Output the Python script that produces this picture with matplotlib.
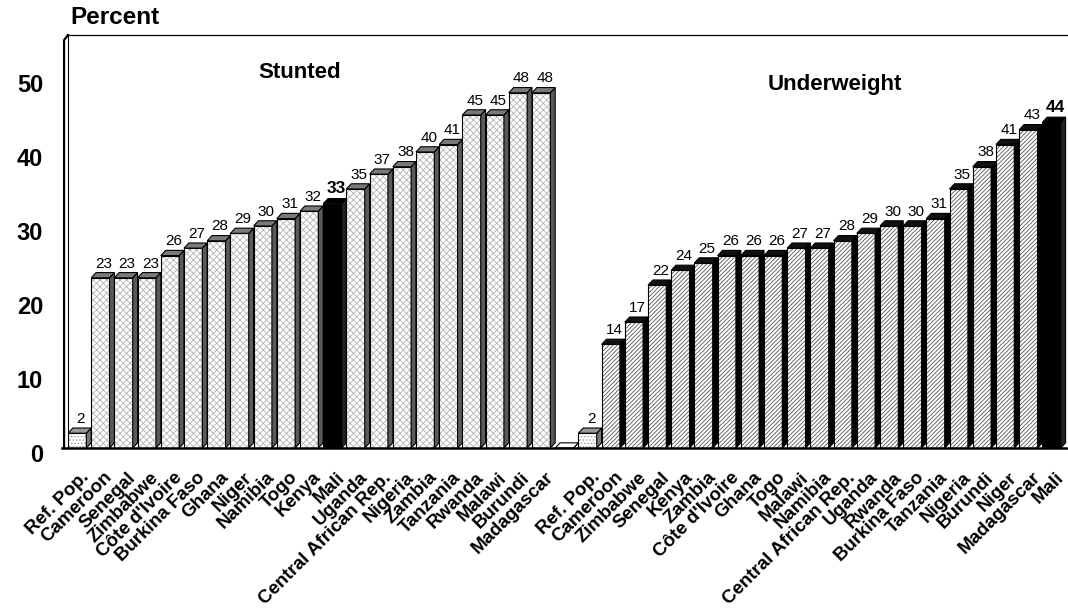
import matplotlib.pyplot as plt
import matplotlib.transforms as mtransforms
from matplotlib.patches import Polygon, Rectangle

plt.rcParams['font.family'] = ['Liberation Sans', 'DejaVu Sans']
plt.rcParams['hatch.linewidth'] = 0.6

# Stunted children, by country
stunted_countries = ['Ref. Pop.', 'Cameroon', 'Senegal', 'Zimbabwe', "Côte d'Ivoire",
                     'Burkina Faso', 'Ghana', 'Niger', 'Namibia', 'Togo', 'Kenya', 'Mali',
                     'Uganda', 'Central African Rep.', 'Nigeria', 'Zambia', 'Tanzania',
                     'Rwanda', 'Malawi', 'Burundi', 'Madagascar']
stunted_values = [2, 23, 23, 23, 26, 27, 28, 29, 30, 31, 32, 33, 35, 37, 38, 40, 41,
                  45, 45, 48, 48]

# Underweight children, by country
underweight_countries = ['Ref. Pop.', 'Cameroon', 'Zimbabwe', 'Senegal', 'Kenya', 'Zambia',
                         "Côte d'Ivoire", 'Ghana', 'Togo', 'Malawi', 'Namibia',
                         'Central African Rep.', 'Uganda', 'Rwanda', 'Burkina Faso',
                         'Tanzania', 'Nigeria', 'Burundi', 'Niger', 'Madagascar', 'Mali']
underweight_values = [2, 14, 17, 22, 24, 25, 26, 26, 26, 27, 27, 28, 29, 30, 30, 31, 35,
                      38, 41, 43, 44]

highlight = 'Mali'

FRONT = 0.79   # width of the front face
DX, DY = 0.21, 0.7  # depth of the 3D effect
YMAX = 55.8

fig = plt.figure(figsize=(10.68, 6.10), dpi=100)
ax = fig.add_axes([68 / 1068, 1 - 448 / 610, 1000 / 1068, 413 / 610])
ax.set_xlim(0, 1000 / 23.2)
ax.set_ylim(0, YMAX)
for s in ax.spines.values():
    s.set_visible(False)


def draw_bar(x, v, face, hatch, hatch_color, side, top):
    ax.add_patch(Rectangle((x, 0), FRONT, v, facecolor=face, edgecolor=hatch_color,
                           hatch=hatch, lw=0, zorder=2))
    ax.add_patch(Rectangle((x, 0), FRONT, v, fill=False, edgecolor='black', lw=0.8, zorder=3))
    ax.add_patch(Polygon([(x + FRONT, 0), (x + FRONT + DX, DY), (x + FRONT + DX, v + DY),
                          (x + FRONT, v)], closed=True, facecolor=side, edgecolor='black',
                         lw=0.8, zorder=3))
    ax.add_patch(Polygon([(x, v), (x + FRONT, v), (x + FRONT + DX, v + DY), (x + DX, v + DY)],
                         closed=True, facecolor=top, edgecolor='black', lw=0.8, zorder=3))


def draw_group(start, countries, values, hatch, hatch_color, side, top):
    for i, (c, v) in enumerate(zip(countries, values)):
        x = start + i
        if c == 'Ref. Pop.':
            draw_bar(x, v, 'white', '.....', '#999999', '#777777', '#999999')
        elif c == highlight:
            draw_bar(x, v, 'black', None, 'black', '#222222', 'black')
        else:
            draw_bar(x, v, 'white', hatch, hatch_color, side, top)
        bold = c == highlight
        ax.annotate(str(v), (x + 0.55, v + DY), xytext=(0, 1.5), textcoords='offset points',
                    ha='center', va='bottom', fontsize=12.5 if bold else 11,
                    fontweight='bold' if bold else 'normal', zorder=4)


s0 = 0
u0 = len(stunted_countries) + 1
draw_group(s0, stunted_countries, stunted_values, 'xxxxx', '#b4b4b4', '#5a5a5a', '#7a7a7a')
draw_group(u0, underweight_countries, underweight_values, '////////', '#555555', 'black', '#111111')

# empty floor slot between the two groups
draw_bar(len(stunted_countries), 0, 'white', None, 'black', 'white', 'white')

# walls and floor
ax.plot([-0.17, -0.17, 0], [0, YMAX - 0.7, YMAX], color='black', lw=1.6, clip_on=False, zorder=5)
ax.plot([0, 0], [0, YMAX], color='black', lw=0.8, clip_on=False, zorder=5)
ax.plot([0, 1000 / 23.2], [YMAX, YMAX], color='black', lw=0.9, clip_on=False, zorder=5)
ax.plot([-0.26, 1000 / 23.2], [0, 0], color='black', lw=1.8, clip_on=False, zorder=5)

# axis ticks
ax.set_yticks(range(0, 51, 10))
ax.tick_params(axis='y', length=0, pad=18, labelsize=17)
offset = mtransforms.ScaledTranslation(0, -0.055, fig.dpi_scale_trans)
for lbl in ax.get_yticklabels():
    lbl.set_fontweight('bold')
    lbl.set_transform(lbl.get_transform() + offset)

xpos = [s0 + i + 0.55 for i in range(len(stunted_countries))] + \
       [u0 + i + 0.55 for i in range(len(underweight_countries))]
ax.set_xticks(xpos)
ax.set_xticklabels(stunted_countries + underweight_countries, rotation=45, ha='right',
                   rotation_mode='anchor', fontsize=13.5, fontweight='bold')
ax.tick_params(axis='x', length=0, pad=15)

fig.text(70 / 1068, 1 - 18 / 610, 'Percent', fontsize=17.5, fontweight='bold',
         ha='left', va='center')
ax.text(10.0, 50.8, 'Stunted', fontsize=16, fontweight='bold', ha='center', va='center')
ax.text(33.06, 49.05, 'Underweight', fontsize=16, fontweight='bold', ha='center', va='center')

fig.savefig('out.png', dpi=100)
